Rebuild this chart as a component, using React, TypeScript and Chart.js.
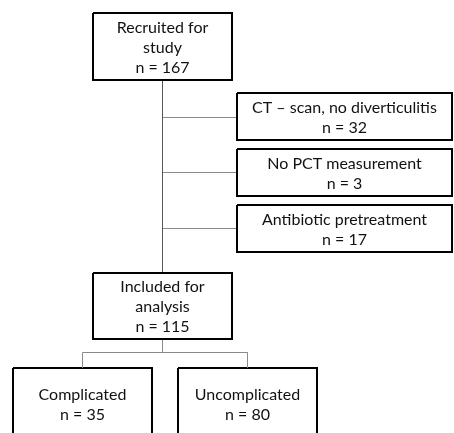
import React, { useEffect, useRef } from "react";
import { Chart, registerables } from "chart.js";

Chart.register(...registerables);

// ---- Flowchart content ----
const stageLabels: string[][] = [
  ["Recruited for", "study"],
  ["CT – scan, no diverticulitis"],
  ["No PCT measurement"],
  ["Antibiotic pretreatment"],
  ["Included for", "analysis"],
  ["Complicated"],
  ["Uncomplicated"],
];
const stageCounts = [167, 32, 3, 17, 115, 35, 80];

// ---- Layout (chart units = canvas pixels) ----
const boxLeft = [93, 237, 237, 237, 93, 13, 178];
const boxRight = [232, 452, 452, 452, 232, 152, 317];
const boxTop = [13, 93, 149, 205, 273, 368, 368];
const boxBottom = [80, 140, 196, 252, 339, 439, 439];

const trunkLine = [
  { x: 162.5, y: 81 },
  { x: 162.5, y: 272 },
];
const exclusionLinks = [117.5, 172.5, 228.5];
const splitStem = [
  { x: 162.5, y: 340 },
  { x: 162.5, y: 352.5 },
];
const splitBranch = [
  { x: 82.5, y: 368 },
  { x: 82.5, y: 352.5 },
  { x: 247.5, y: 352.5 },
  { x: 247.5, y: 368 },
];

const FONT = '16px Lato, "Open Sans", sans-serif';
const LINE_H = 20;

export default function App() {
  const ref = useRef<HTMLCanvasElement | null>(null);

  useEffect(() => {
    if (!ref.current) return;

    const lineStyle = (color: string, width: number) => ({
      showLine: true,
      borderColor: color,
      borderWidth: width,
      pointRadius: 0,
      pointHoverRadius: 0,
      fill: false,
      tension: 0,
    });

    const datasets: any[] = [];
    datasets.push({ data: trunkLine, ...lineStyle("#555555", 1) });
    exclusionLinks.forEach((y) => {
      datasets.push({
        data: [
          { x: 162.5, y },
          { x: 236, y },
        ],
        ...lineStyle("#8a8a8a", 1),
      });
    });
    datasets.push({ data: splitStem, ...lineStyle("#8a8a8a", 1) });
    datasets.push({ data: splitBranch, ...lineStyle("#8a8a8a", 1) });

    stageLabels.forEach((_, i) => {
      const l = boxLeft[i], r = boxRight[i], t = boxTop[i], b = boxBottom[i];
      datasets.push({
        data: [
          { x: l, y: t },
          { x: r, y: t },
          { x: r, y: b },
          { x: l, y: b },
          { x: l, y: t },
        ],
        ...lineStyle("#000000", 2),
        borderJoinStyle: "miter",
      });
    });

    const textPlugin = {
      id: "boxText",
      afterDatasetsDraw(chart: any) {
        const { ctx, scales } = chart;
        const xs = scales.x, ys = scales.y;
        ctx.save();
        ctx.font = FONT;
        ctx.fillStyle = "#111111";
        ctx.textAlign = "center";
        ctx.textBaseline = "middle";
        stageLabels.forEach((lab, i) => {
          const lines = [...lab, `n = ${stageCounts[i]}`];
          const cx = (xs.getPixelForValue(boxLeft[i]) + xs.getPixelForValue(boxRight[i])) / 2;
          const cy = (ys.getPixelForValue(boxTop[i]) + ys.getPixelForValue(boxBottom[i])) / 2 + 1;
          const start = cy - ((lines.length - 1) * LINE_H) / 2;
          lines.forEach((s, k) => ctx.fillText(s, cx, start + k * LINE_H));
        });
        ctx.restore();
      },
    };

    const chart = new Chart(ref.current, {
      type: "scatter",
      data: { datasets },
      options: {
        responsive: false,
        maintainAspectRatio: false,
        animation: false,
        events: [],
        layout: { padding: 0 },
        plugins: { legend: { display: false }, tooltip: { enabled: false } },
        scales: {
          x: { type: "linear", min: 0, max: 454, display: false },
          y: { type: "linear", min: 0, max: 433, reverse: true, display: false },
        },
      },
      plugins: [textPlugin],
    });
    return () => chart.destroy();
  }, []);

  return (
    <div style={{ position: "absolute", left: 0, top: 0, width: 454, height: 433, background: "#fff" }}>
      <canvas ref={ref} width={454} height={433} style={{ display: "block" }} />
    </div>
  );
}
